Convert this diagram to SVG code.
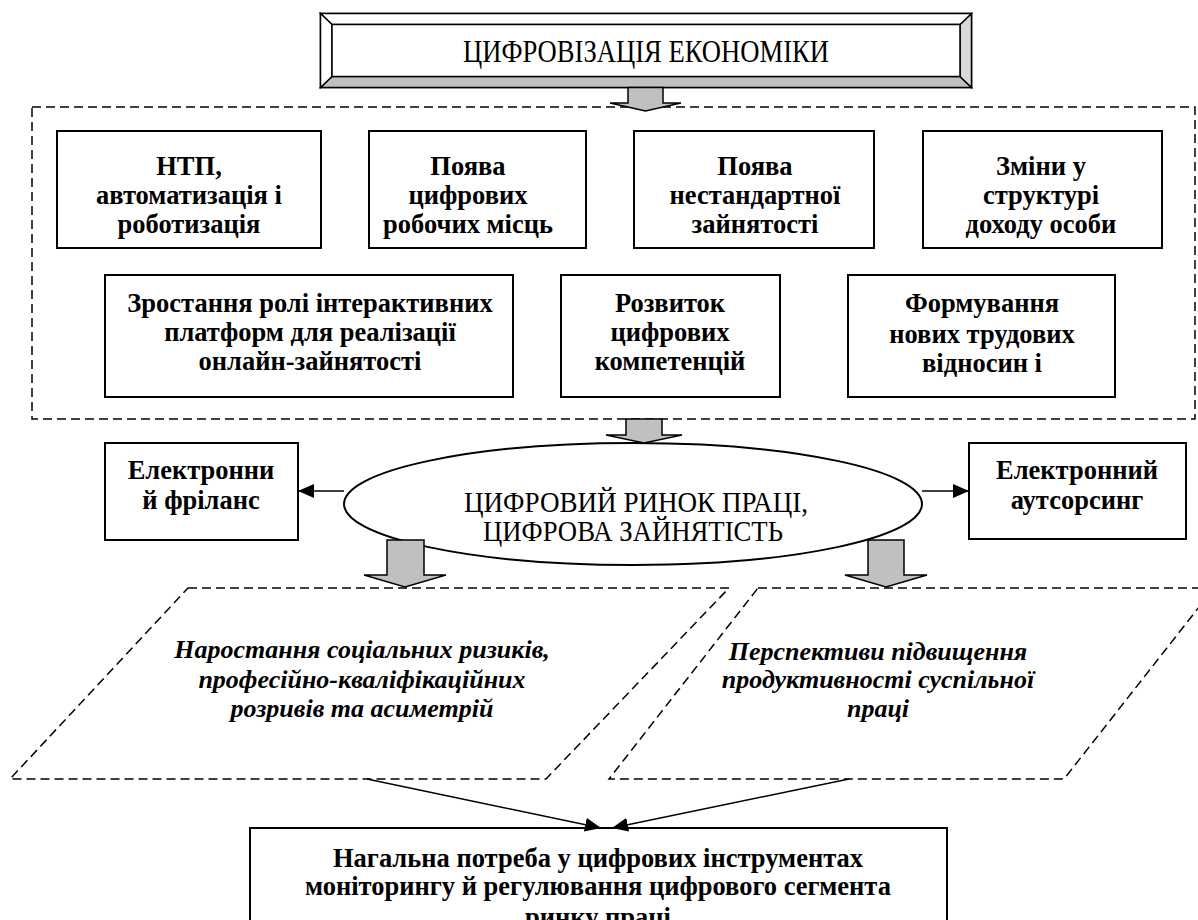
<svg xmlns="http://www.w3.org/2000/svg" width="1198" height="920" viewBox="0 0 1198 920">
<style>
.box{fill:#fff;stroke:#000;stroke-width:2}
.dash{fill:none;stroke:#000;stroke-width:1.5;stroke-dasharray:9 5}
.garrow{fill:#c0c0c0;stroke:#000;stroke-width:1.5;stroke-linejoin:miter}
.line{fill:none;stroke:#000;stroke-width:1.5}
.b{font-family:"Liberation Serif","Times New Roman",serif;font-weight:bold;font-size:26.5px;text-anchor:middle;fill:#000}
.r{font-family:"Liberation Serif","Times New Roman",serif;font-size:29px;text-anchor:middle;fill:#000}
.t{font-family:"Liberation Serif","Times New Roman",serif;font-size:31px;text-anchor:middle;fill:#000}
.bi{font-family:"Liberation Serif","Times New Roman",serif;font-weight:bold;font-style:italic;font-size:26px;text-anchor:middle;fill:#000}
</style>
<defs>
<marker id="ah" markerUnits="userSpaceOnUse" markerWidth="16" markerHeight="14" refX="16" refY="7" orient="auto">
<path d="M0,0 L16,7 L0,14 z" fill="#000"/>
</marker>
</defs>
<rect width="1198" height="920" fill="#fff"/>

<g id="container">
<rect class="dash" x="32" y="107" width="1163" height="312"/>
</g>

<g id="title">
<rect x="320.5" y="13.5" width="651" height="74" fill="#fff" stroke="#000" stroke-width="1.5"/>
<polygon points="320.5,87.5 971.5,87.5 960,76.5 332,76.5" fill="#c0c0c0" stroke="#000" stroke-width="1.5"/>
<polygon points="971.5,13.5 971.5,87.5 960,76.5 960,24.5" fill="#d8d8d8" stroke="#000" stroke-width="1.5"/>
<polygon points="320.5,13.5 971.5,13.5 960,24.5 332,24.5" fill="#fff" stroke="#000" stroke-width="1.5"/>
<polygon points="320.5,13.5 332,24.5 332,76.5 320.5,87.5" fill="#fff" stroke="#000" stroke-width="1.5"/>
<rect x="332" y="24.5" width="628" height="52" fill="#fff" stroke="#000" stroke-width="1.5"/>
<text class="t" x="646" y="62" textLength="366" lengthAdjust="spacingAndGlyphs">ЦИФРОВІЗАЦІЯ ЕКОНОМІКИ</text>
</g>

<g id="n1"><rect class="box" x="57" y="131" width="264" height="117"/>
<text class="b" x="189" y="175">НТП,</text><text class="b" x="189" y="204">автоматизація і</text><text class="b" x="189" y="233">роботизація</text></g>
<g id="n2"><rect class="box" x="369" y="131" width="217" height="117"/>
<text class="b" x="468" y="175">Поява</text><text class="b" x="468" y="204">цифрових</text><text class="b" x="468" y="233">робочих місць</text></g>
<g id="n3"><rect class="box" x="634" y="131" width="240" height="117"/>
<text class="b" x="755" y="175">Поява</text><text class="b" x="755" y="204">нестандартної</text><text class="b" x="755" y="233">зайнятості</text></g>
<g id="n4"><rect class="box" x="923" y="131" width="239" height="117"/>
<text class="b" x="1041" y="175">Зміни у</text><text class="b" x="1041" y="204">структурі</text><text class="b" x="1041" y="233">доходу особи</text></g>

<g id="n5"><rect class="box" x="105" y="275" width="408" height="122"/>
<text class="b" x="310" y="312">Зростання ролі інтерактивних</text><text class="b" x="310" y="341">платформ для реалізації</text><text class="b" x="310" y="370">онлайн-зайнятості</text></g>
<g id="n6"><rect class="box" x="561" y="275" width="219" height="122"/>
<text class="b" x="670" y="312">Розвиток</text><text class="b" x="670" y="341">цифрових</text><text class="b" x="670" y="370">компетенцій</text></g>
<g id="n7"><rect class="box" x="848" y="275" width="267" height="122"/>
<text class="b" x="982" y="312">Формування</text><text class="b" x="982" y="343">нових трудових</text><text class="b" x="982" y="372">відносин і</text></g>

<g id="ellipse"><ellipse cx="633" cy="504" rx="289" ry="61" fill="#fff" stroke="#000" stroke-width="2"/>
<text class="r" x="636" y="512" textLength="344" lengthAdjust="spacingAndGlyphs">ЦИФРОВИЙ РИНОК ПРАЦІ,</text><text class="r" x="633" y="541" textLength="300" lengthAdjust="spacingAndGlyphs">ЦИФРОВА ЗАЙНЯТІСТЬ</text></g>

<g id="freelance"><rect class="box" x="105" y="443" width="193" height="97"/>
<text class="b" x="201" y="479">Електронни</text><text class="b" x="201" y="509">й фріланс</text></g>
<g id="outsourcing"><rect class="box" x="969" y="443" width="217" height="96"/>
<text class="b" x="1077" y="479">Електронний</text><text class="b" x="1077" y="509">аутсорсинг</text></g>

<g id="risks"><polygon class="dash" points="188,588 729,588 546,779 10,779"/>
<text class="bi" x="362" y="658">Наростання соціальних ризиків,</text><text class="bi" x="362" y="688">професійно-кваліфікаційних</text><text class="bi" x="362" y="717">розривів та асиметрій</text></g>
<g id="prospects"><polygon class="dash" points="758,588 1214,588 1064,779 609,779"/>
<text class="bi" x="878" y="660">Перспективи підвищення</text><text class="bi" x="878" y="688">продуктивності суспільної</text><text class="bi" x="878" y="717">праці</text></g>

<g id="need"><rect class="box" x="250" y="828" width="697" height="110"/>
<text class="b" x="598" y="867">Нагальна потреба у цифрових інструментах</text><text class="b" x="598" y="895">моніторингу й регулювання цифрового сегмента</text><text class="b" x="598" y="926">ринку праці</text></g>

<g id="connectors">
<polygon class="garrow" points="628,87.5 663,87.5 663,103 681,103 645.5,111 610,103 628,103"/>
<polygon class="garrow" points="626,419 662,419 662,435 682,435 644,443 606,435 626,435"/>
<polygon class="garrow" points="387,540 424,540 424,575 446,575 405,587 364,575 387,575"/>
<polygon class="garrow" points="868,540 904,540 904,575 927,575 886,587 845,575 868,575"/>
<line class="line" x1="344" y1="491" x2="298" y2="491" marker-end="url(#ah)"/>
<line class="line" x1="922" y1="491" x2="969" y2="491" marker-end="url(#ah)"/>
<line class="line" x1="367" y1="779" x2="601" y2="828" marker-end="url(#ah)"/>
<line class="line" x1="849" y1="779" x2="612" y2="828" marker-end="url(#ah)"/>
</g>
</svg>
